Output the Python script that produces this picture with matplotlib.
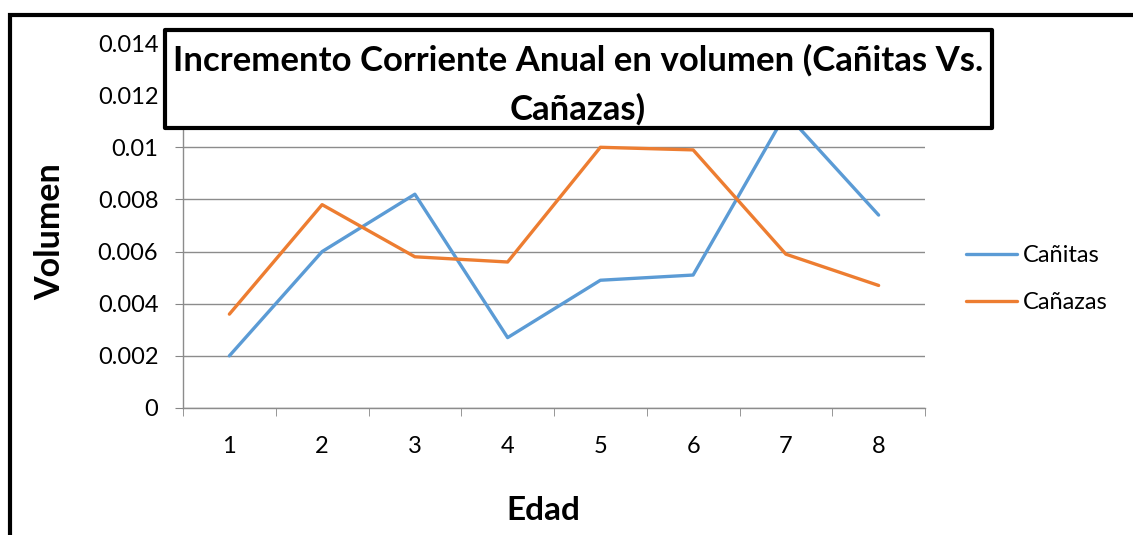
import matplotlib.pyplot as plt
from matplotlib.patches import Rectangle

edad = [1, 2, 3, 4, 5, 6, 7, 8]
canitas = [0.0020, 0.0060, 0.0082, 0.0027, 0.0049, 0.0051, 0.0113, 0.0074]
canazas = [0.0036, 0.0078, 0.0058, 0.0056, 0.0100, 0.0099, 0.0059, 0.0047]
yticks = [0, 0.002, 0.004, 0.006, 0.008, 0.01, 0.012, 0.014]
ytick_labels = ['0', '0.002', '0.004', '0.006', '0.008', '0.01', '0.012', '0.014']
titulo = 'Incremento Corriente Anual en volumen (Cañitas Vs.\nCañazas)'

plt.rcParams['font.family'] = ['Lato', 'DejaVu Sans']

W, H = 1133, 535
fig = plt.figure(figsize=(W / 100, H / 100), dpi=100)
ax = fig.add_axes([183 / W, 1 - 408 / H, (925 - 183) / W, (408 - 43) / H])

ax.plot(edad, canitas, color='#5B9BD5', lw=2.4, label='Cañitas', solid_capstyle='round')
ax.plot(edad, canazas, color='#ED7D31', lw=2.4, label='Cañazas', solid_capstyle='round')

ax.set_xlim(0.5, 8.5)
ax.set_ylim(0, 0.014)
ax.set_yticks(yticks)
ax.set_yticklabels(ytick_labels)
ax.set_xticks(edad)
ax.set_xticks([i + 0.5 for i in range(0, 9)], minor=True)
ax.tick_params(axis='x', which='major', length=0, pad=20, labelsize=17)
ax.tick_params(axis='x', which='minor', length=5.8, color='#868686', direction='out')
ax.tick_params(axis='y', length=5.8, color='#868686', pad=12, labelsize=17)
ax.grid(axis='y', color='#8c8c8c', lw=1)
ax.set_axisbelow(True)
for s in ['top', 'right']:
    ax.spines[s].set_visible(False)
for s in ['left', 'bottom']:
    ax.spines[s].set_color('#8c8c8c')
    ax.spines[s].set_linewidth(1)

fig.text(50 / W, 1 - 232 / H, 'Volumen', rotation=90, ha='center', va='center',
         fontsize=24.5, fontweight='bold')
fig.text(543 / W, 1 - 511 / H, 'Edad', ha='center', va='center',
         fontsize=24, fontweight='bold')

ax.legend(loc='center left', bbox_to_anchor=(945 / W, 1 - 279 / H),
          bbox_transform=fig.transFigure, frameon=False, fontsize=17,
          handlelength=2.16, labelspacing=1.1, handletextpad=0.25)

# recuadro del titulo
caja = Rectangle((165 / W, 1 - 128 / H), (992 - 165) / W, (128 - 30) / H,
                 transform=fig.transFigure, facecolor='white', edgecolor='black',
                 lw=3, zorder=5, joinstyle='round')
fig.add_artist(caja)
fig.text(578 / W, 1 - 85 / H, titulo, ha='center', va='center', fontsize=25,
         fontweight='bold', linespacing=1.6, zorder=6)

# borde exterior
borde = Rectangle((10 / W, -0.2), 1.2, 1.2 - 15 / H, transform=fig.transFigure,
                  facecolor='none', edgecolor='black', lw=3, zorder=7)
fig.add_artist(borde)

fig.savefig('out.png', dpi=100)
